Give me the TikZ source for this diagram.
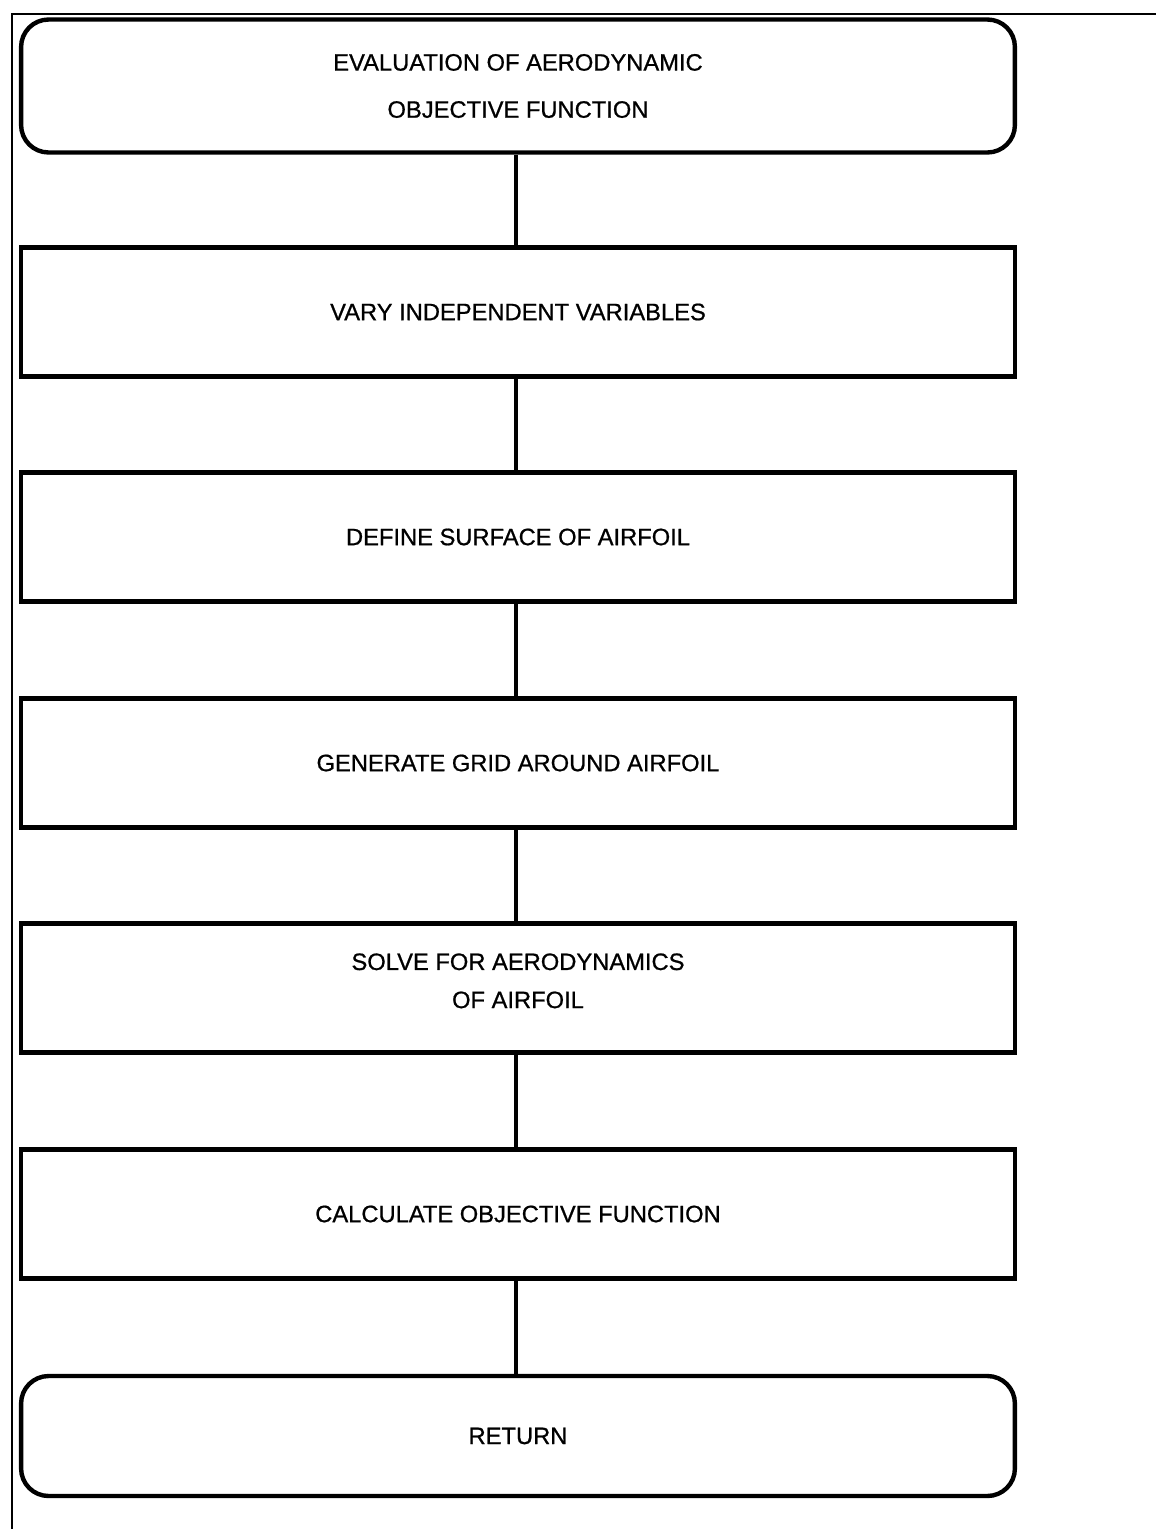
\documentclass[tikz,border=0pt]{standalone}
\usepackage{fontspec}
\setmainfont{Liberation Sans}
\newfontfamily\boxfont[FakeBold=0.8]{Liberation Sans}
\tikzset{
  procbox/.style={draw, line width=2.5pt, minimum width=19.88cm, minimum height=2.58cm, align=center, font=\boxfont\fontsize{13.5}{16}\selectfont},
  termbox/.style={procbox, rounded corners=0.55cm},
  flowline/.style={line width=2pt}
}
\begin{document}
\begin{tikzpicture}[x=0.02cm, y=-0.02cm]
            \useasboundingbox (0,0) rectangle (1156,1529);
            % Kader
            \draw[line width=1.1pt] (1156,14) -- (12,14) -- (12,1529);

            % Blokken
            \node[termbox, minimum height=2.66cm] (eval) at (518,86) {EVALUATION OF AERODYNAMIC\\[0.38cm]OBJECTIVE FUNCTION};
            \node[procbox] (vary) at (518,312) {VARY INDEPENDENT VARIABLES};
            \node[procbox] (surf) at (518,537) {DEFINE SURFACE OF AIRFOIL};
            \node[procbox] (grid) at (518,763) {GENERATE GRID AROUND AIRFOIL};
            \node[procbox, text depth=0.29cm] (solve) at (518,988) {SOLVE FOR AERODYNAMICS\\[0.2cm]OF AIRFOIL};
            \node[procbox] (calc) at (518,1214) {CALCULATE OBJECTIVE FUNCTION};
            \node[termbox, minimum height=2.4cm] (ret) at (518,1436) {RETURN};

            % Verbindingen
            \draw[flowline] (eval.south -| 516,0) -- (vary.north -| 516,0);
            \draw[flowline] (vary.south -| 516,0) -- (surf.north -| 516,0);
            \draw[flowline] (surf.south -| 516,0) -- (grid.north -| 516,0);
            \draw[flowline] (grid.south -| 516,0) -- (solve.north -| 516,0);
            \draw[flowline] (solve.south -| 516,0) -- (calc.north -| 516,0);
            \draw[flowline] (calc.south -| 516,0) -- (ret.north -| 516,0);
        \end{tikzpicture}
\end{document}
